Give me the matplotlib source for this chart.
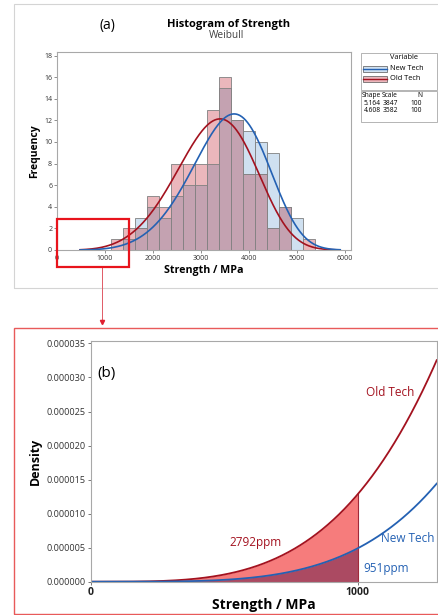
import numpy as np
import matplotlib.pyplot as plt
from matplotlib.patches import Rectangle

plt.rcParams['font.family'] = ['Open Sans', 'DejaVu Sans']

# histogram data (bin width 250 MPa)
bin_centers = [1250, 1500, 1750, 2000, 2250, 2500, 2750, 3000, 3250,
               3500, 3750, 4000, 4250, 4500, 4750, 5000, 5250]
old_counts = [1, 2, 2, 5, 4, 8, 8, 8, 13, 16, 12, 7, 7, 2, 4, 0, 1]
new_counts = [0, 1, 3, 4, 3, 5, 6, 6, 8, 15, 12, 11, 10, 9, 4, 3, 0]
bin_width = 250

# weibull fits
variables = ['New Tech', 'Old Tech']
shape = [5.164, 4.608]
scale = [3847, 3582]
n_obs = [100, 100]
ppm_text = ['951ppm', '2792ppm']

c_new, c_old = '#2461b3', '#a3121f'
W, H = 439, 615


def weib(x, k, lam):
    x = np.asarray(x, float)
    return (k / lam) * (x / lam) ** (k - 1) * np.exp(-(x / lam) ** k)


def fx(px):
    return px / W


def fy(py):
    return 1 - py / H


fig = plt.figure(figsize=(W / 100, H / 100), dpi=100)

# ---------- (a) histogram ----------
ax = fig.add_axes([fx(57), fy(250), fx(351) - fx(57), fy(52.3) - fy(250)])
lo = [min(a, b) for a, b in zip(old_counts, new_counts)]
ax.bar(bin_centers, new_counts, width=bin_width, color='#cfe0f0', edgecolor='#808080', lw=0.6)
ax.bar(bin_centers, old_counts, width=bin_width, color='#ebb7bc', edgecolor='#808080', lw=0.6)
ax.bar(bin_centers, lo, width=bin_width, color='#c4a2b1', edgecolor='#808080', lw=0.6)

xs = np.linspace(480, 5900, 400)
ax.plot(xs, weib(xs, shape[1], scale[1]) * n_obs[1] * bin_width, color=c_old, lw=1.2)
ax.plot(xs, weib(xs, shape[0], scale[0]) * n_obs[0] * bin_width, color=c_new, lw=1.2)

ax.set_xlim(0, 6125)
ax.set_ylim(0, 18.3)
ax.set_xticks(range(0, 6001, 1000))
ax.set_yticks(range(0, 19, 2))
ax.tick_params(labelsize=5, length=2, width=0.5, colors='#606060', labelcolor='#333333', pad=1.5)
for s in ax.spines.values():
    s.set_color('#a8a8a8')
    s.set_linewidth(0.8)
ax.set_xlabel('Strength / MPa', fontsize=7.7, fontweight='bold', labelpad=2)
ax.set_ylabel('Frequency', fontsize=7.5, fontweight='bold', labelpad=3)

fig.text(fx(229), fy(24), 'Histogram of Strength', fontsize=8, fontweight='bold',
         ha='center', va='center')
fig.text(fx(227), fy(36), 'Weibull', fontsize=7.3, color='#404040', ha='center', va='center')
fig.text(fx(107), fy(26), '(a)', fontsize=10, ha='center', va='center')

# legend boxes
fig.patches.append(Rectangle((fx(361), fy(90)), fx(437) - fx(361), fy(53) - fy(90),
                             transform=fig.transFigure, fill=False, ec='#a8a8a8', lw=0.6))
fig.patches.append(Rectangle((fx(361), fy(122)), fx(437) - fx(361), fy(91) - fy(122),
                             transform=fig.transFigure, fill=False, ec='#a8a8a8', lw=0.6))
fig.text(fx(390), fy(57.5), 'Variable', fontsize=5.3, va='center')
sw = [('#cfe0f0', c_new, 69), ('#ebb7bc', c_old, 79)]
for (fc, lc, yy), name in zip(sw, variables):
    fig.patches.append(Rectangle((fx(363), fy(yy + 3)), fx(387) - fx(363), fy(yy - 3) - fy(yy + 3),
                                 transform=fig.transFigure, fc=fc, ec='#555555', lw=0.5))
    fig.lines.append(plt.Line2D([fx(363), fx(387)], [fy(yy), fy(yy)],
                                transform=fig.transFigure, color=lc, lw=1))
    fig.text(fx(390), fy(yy - 1), name, fontsize=5.3, va='center')
fig.text(fx(380.5), fy(95.5), 'Shape', fontsize=4.8, va='center', ha='right')
fig.text(fx(398), fy(95.5), 'Scale', fontsize=4.8, va='center', ha='right')
fig.text(fx(422), fy(95.5), 'N', fontsize=4.8, va='center', ha='right')
for i, yy in enumerate([103.3, 110.7]):
    fig.text(fx(381), fy(yy), f'{shape[i]:.3f}', fontsize=4.8, va='center', ha='right')
    fig.text(fx(398), fy(yy), f'{scale[i]}', fontsize=4.8, va='center', ha='right')
    fig.text(fx(422), fy(yy), f'{n_obs[i]}', fontsize=4.8, va='center', ha='right')

# outer frames / zoom marker
fig.patches.append(Rectangle((fx(14), fy(288)), fx(445) - fx(14), fy(4) - fy(288),
                             transform=fig.transFigure, fill=False, ec='#d4d4d4', lw=0.8))
fig.patches.append(Rectangle((fx(57), fy(267)), fx(129) - fx(57), fy(219) - fy(267),
                             transform=fig.transFigure, fill=False, ec='#e8141c', lw=1.6, zorder=5))
fig.patches.append(Rectangle((fx(14), fy(614)), fx(445) - fx(14), fy(327.7) - fy(614),
                             transform=fig.transFigure, fill=False, ec='#e85a5a', lw=1))
fig.lines.append(plt.Line2D([fx(102), fx(102)], [fy(267), fy(319)],
                            transform=fig.transFigure, color='#e05a66', lw=0.7))
fig.lines.append(plt.Line2D([fx(102)], [fy(322)], transform=fig.transFigure, marker='v',
                            ms=3, color='#e02030', lw=0))

# ---------- (b) density tail ----------
bx = fig.add_axes([fx(91), fy(581.7), fx(436.7) - fx(91), fy(340.7) - fy(581.7)])
x2 = np.linspace(0, 1296, 500)
xf = np.linspace(0, 1000, 300)
d_old = weib(x2, shape[1], scale[1])
d_new = weib(x2, shape[0], scale[0])
bx.fill_between(xf, 0, weib(xf, shape[1], scale[1]), color='#f67c7c', lw=0)
bx.fill_between(xf, 0, weib(xf, shape[0], scale[0]), color='#ab4a62', lw=0)
bx.plot([1000, 1000], [0, weib(1000, shape[1], scale[1])], color='#a02a3a', lw=0.8)
bx.plot(x2, d_old, color=c_old, lw=1.3)
bx.plot(x2, d_new, color=c_new, lw=1.3)
bx.set_xlim(0, 1296)
bx.set_ylim(0, 0.0000354)
bx.set_xticks([0, 1000])
bx.set_yticks(np.arange(0, 0.0000351, 0.000005))
bx.set_yticklabels([f'{v:.6f}' for v in np.arange(0, 0.0000351, 0.000005)])
bx.tick_params(axis='y', labelsize=6.6, length=2.5, width=0.6, colors='#606060',
               labelcolor='#333333', pad=1.5)
bx.tick_params(axis='x', labelsize=7.5, length=2.5, width=0.6, colors='#606060',
               labelcolor='#222222', pad=1)
for lab in bx.get_xticklabels():
    lab.set_fontweight('bold')
for s in bx.spines.values():
    s.set_color('#a8a8a8')
    s.set_linewidth(0.8)
bx.set_xlabel('Strength / MPa', fontsize=10, fontweight='bold', labelpad=0)
bx.set_ylabel('Density', fontsize=9, fontweight='bold', labelpad=3)

fig.text(fx(107), fy(374), '(b)', fontsize=11, ha='center', va='center')
fig.text(fx(390), fy(392.7), variables[1], fontsize=8.5, color=c_old, ha='center', va='center')
fig.text(fx(408), fy(538.7), variables[0], fontsize=8.5, color=c_new, ha='center', va='center')
fig.text(fx(255.5), fy(542.7), ppm_text[1], fontsize=8.5, color=c_old, ha='center', va='center')
fig.text(fx(386.5), fy(568.3), ppm_text[0], fontsize=8.5, color=c_new, ha='center', va='center')

fig.savefig('out.png', dpi=100)
